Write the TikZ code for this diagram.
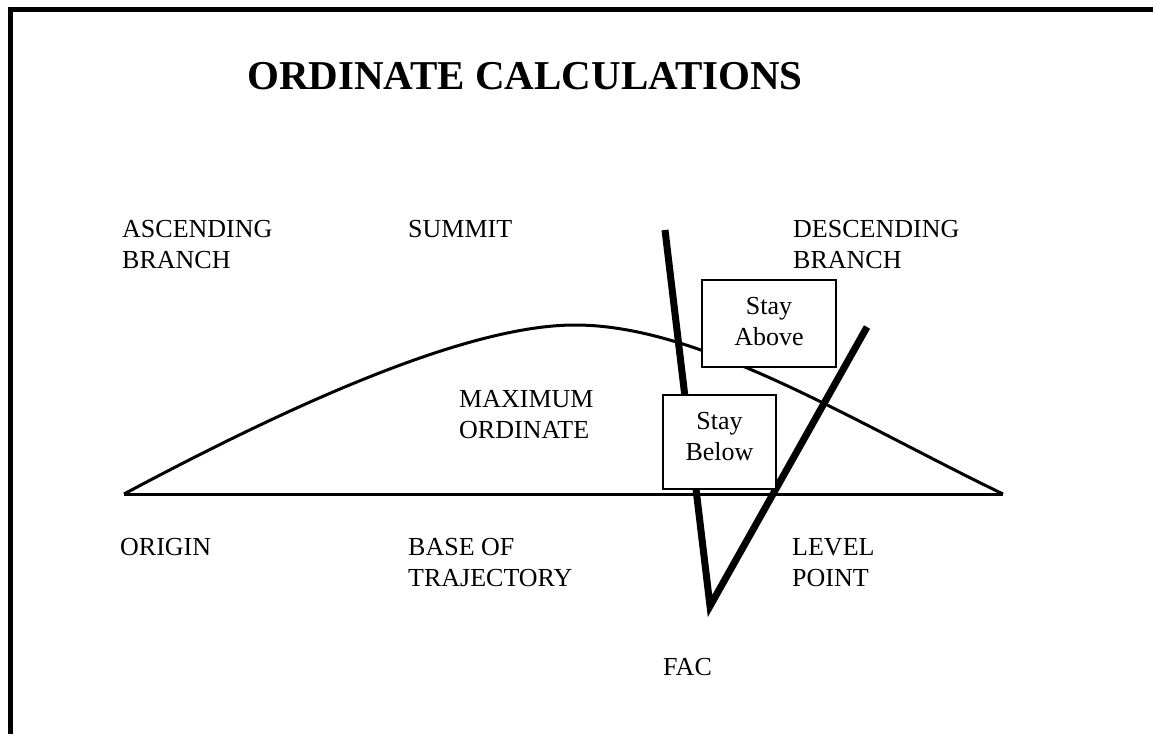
\documentclass[tikz,border=0pt]{standalone}
\usepackage{fontspec}
\setmainfont{Liberation Serif}
\tikzset{
  lb/.style={anchor=base west,inner sep=0pt,align=left,font=\fontsize{26}{31}\selectfont},
  ttl/.style={anchor=base,inner sep=0pt,font=\fontsize{41}{46}\selectfont\bfseries},
  bx/.style={draw,line width=2pt,fill=white,align=center,inner sep=0pt,font=\fontsize{26}{31}\selectfont},
  heavy/.style={line width=7pt,line join=miter},
  trj/.style={line width=3pt}
}
\begin{document}
\begin{tikzpicture}[x=1pt,y=-1pt]
\useasboundingbox (0,0) rectangle (1153,734);
% frame, open to the right and below
\draw[line width=5.5pt] (1153,9.5) -- (10.5,9.5) -- (10.5,734);
\node[ttl] (title) at (525,89) {ORDINATE CALCULATIONS};
% trajectory and its base
\coordinate (org) at (124,494);
\coordinate (summ) at (575,325);
\coordinate (lvl) at (1003,494);
\draw[trj] (org) -- (lvl);
\draw[trj] (org) .. controls (300,400) and (470,325) .. (summ) .. controls (700,325) and (850,420) .. (lvl);
% lines to the FAC
\coordinate (fac) at (710,606);
\coordinate (up1) at (665,230);
\coordinate (up2) at (867,327);
\draw[heavy] (up1) -- (fac) -- (up2);
\node[bx,minimum width=134pt,minimum height=87pt,text depth=3.5pt] (above) at (769,323.5) {Stay\\Above};
\node[bx,minimum width=113pt,minimum height=94pt,text depth=12pt] (below) at (719.5,442) {Stay\\Below};
% labels (base = last line)
\node[lb] (ascbr) at (122,268) {ASCENDING\\BRANCH};
\node[lb] (summitlb) at (408,237) {SUMMIT};
\node[lb] (descbr) at (793,268) {DESCENDING\\BRANCH};
\node[lb] (maxord) at (459,438) {MAXIMUM\\ORDINATE};
\node[lb] (originlb) at (120,555) {ORIGIN};
\node[lb] (basetr) at (408,586) {BASE OF\\TRAJECTORY};
\node[lb] (levelpt) at (792,586) {LEVEL\\POINT};
\node[lb] (faclb) at (663,675) {FAC};
\end{tikzpicture}
\end{document}
